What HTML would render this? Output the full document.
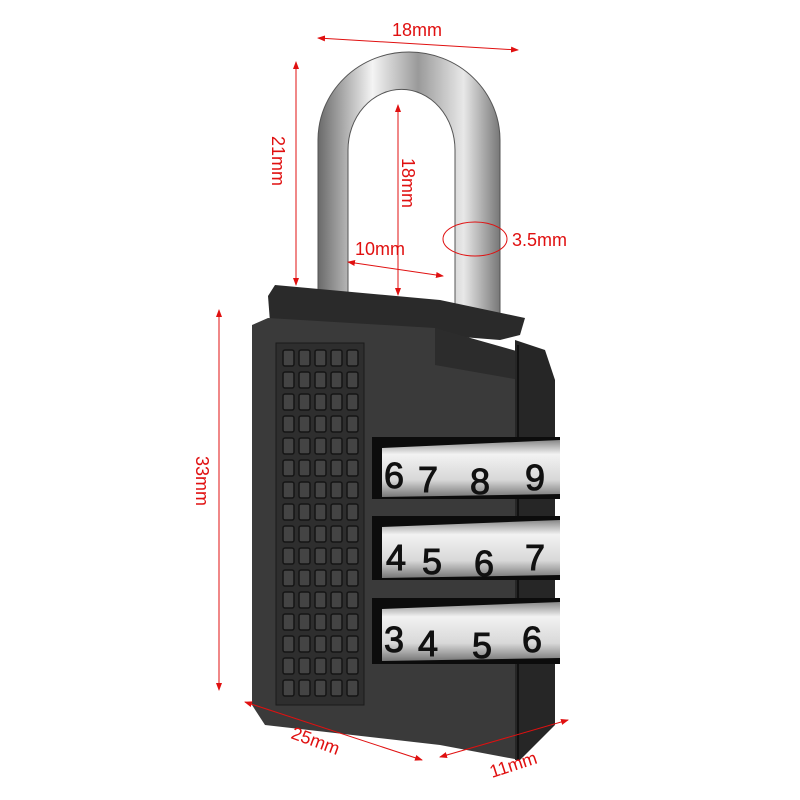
<!DOCTYPE html>
<html><head><meta charset="utf-8"><style>
html,body{margin:0;padding:0;background:#fff;width:800px;height:800px;overflow:hidden}
svg{display:block}
.t{font-family:"Liberation Sans",sans-serif;fill:#e01010;font-size:18px}
.d{font-family:"Liberation Sans",sans-serif;fill:#111;font-size:36px;stroke:#111;stroke-width:1}
</style></head><body>
<svg width="800" height="800" viewBox="0 0 800 800">
<defs>
<linearGradient id="sh" x1="0" x2="1">
<stop offset="0" stop-color="#6a6a6a"/><stop offset="0.3" stop-color="#f4f4f4"/><stop offset="0.55" stop-color="#9a9a9a"/><stop offset="0.8" stop-color="#e8e8e8"/><stop offset="1" stop-color="#777"/>
</linearGradient>
<linearGradient id="dial" x1="0" y1="0" x2="0" y2="1">
<stop offset="0" stop-color="#888"/><stop offset="0.25" stop-color="#f2f2f2"/><stop offset="0.7" stop-color="#d8d8d8"/><stop offset="1" stop-color="#777"/>
</linearGradient>
<marker id="a" markerWidth="8" markerHeight="8" refX="7" refY="4" orient="auto-start-reverse"><path d="M0,1 L8,4 L0,7 z" fill="#e01010"/></marker>
</defs>
<path d="M318,330 L318,140 A91,88 0 0 1 500,140 L500,330 L455,330 L455,150 A53,60 0 0 0 348,150 L348,330 Z" fill="url(#sh)" stroke="#555" stroke-width="1"/>
<path d="M268,296 L275,285 L440,300 L525,318 L520,335 L500,340 L270,322 Z" fill="#2a2a2a"/>
<path d="M252,325 L268,318 L435,328 L520,355 L520,760 L440,745 L265,725 L252,705 Z" fill="#3a3a3a"/>
<path d="M435,328 L520,352 L520,380 L435,365 Z" fill="#2c2c2c"/>
<path d="M515,340 L545,350 L555,380 L555,725 L520,760 L515,760 Z" fill="#262626"/>
<line x1="518" y1="345" x2="518" y2="760" stroke="#111" stroke-width="2"/>
<rect x="276" y="343" width="88" height="362" fill="#2e2e2e" stroke="#1a1a1a"/>
<g fill="#444" stroke="#151515" stroke-width="1.5">
<g id="row">
<rect x="283" y="350" width="11" height="16" rx="2"/><rect x="299" y="350" width="11" height="16" rx="2"/><rect x="315" y="350" width="11" height="16" rx="2"/><rect x="331" y="350" width="11" height="16" rx="2"/><rect x="347" y="350" width="11" height="16" rx="2"/>
</g>
<use href="#row" y="22"/><use href="#row" y="44"/><use href="#row" y="66"/><use href="#row" y="88"/><use href="#row" y="110"/><use href="#row" y="132"/><use href="#row" y="154"/><use href="#row" y="176"/><use href="#row" y="198"/><use href="#row" y="220"/><use href="#row" y="242"/><use href="#row" y="264"/><use href="#row" y="286"/><use href="#row" y="308"/><use href="#row" y="330"/>
</g>
<g>
<rect x="372" y="437" width="188" height="62" fill="#0c0c0c"/>
<path d="M382,448 L560,440 L560,494 L382,497 Z" fill="url(#dial)"/>
<text class="d" x="384" y="488">6</text><text class="d" x="418" y="492">7</text><text class="d" x="470" y="494">8</text><text class="d" x="525" y="490">9</text>
<rect x="372" y="516" width="188" height="64" fill="#0c0c0c"/>
<path d="M382,527 L560,520 L560,575 L382,578 Z" fill="url(#dial)"/>
<text class="d" x="386" y="570">4</text><text class="d" x="422" y="574">5</text><text class="d" x="474" y="576">6</text><text class="d" x="525" y="570">7</text>
<rect x="372" y="598" width="188" height="66" fill="#0c0c0c"/>
<path d="M382,609 L560,602 L560,658 L382,661 Z" fill="url(#dial)"/>
<text class="d" x="384" y="652">3</text><text class="d" x="418" y="656">4</text><text class="d" x="472" y="658">5</text><text class="d" x="522" y="652">6</text>
</g>
<g stroke="#e01010" stroke-width="1" fill="none">
<line x1="318" y1="38" x2="518" y2="50" marker-start="url(#a)" marker-end="url(#a)"/>
<line x1="296" y1="62" x2="296" y2="285" marker-start="url(#a)" marker-end="url(#a)"/>
<line x1="398" y1="105" x2="398" y2="295" marker-start="url(#a)" marker-end="url(#a)"/>
<line x1="348" y1="262" x2="443" y2="276" marker-start="url(#a)" marker-end="url(#a)"/>
<line x1="219" y1="310" x2="219" y2="690" marker-start="url(#a)" marker-end="url(#a)"/>
<line x1="245" y1="702" x2="422" y2="760" marker-start="url(#a)" marker-end="url(#a)"/>
<line x1="440" y1="757" x2="568" y2="720" marker-start="url(#a)" marker-end="url(#a)"/>
<ellipse cx="475" cy="239" rx="32" ry="17"/>
</g>
<text class="t" x="392" y="36">18mm</text>
<text class="t" transform="translate(272,136) rotate(90)">21mm</text>
<text class="t" transform="translate(402,158) rotate(90)">18mm</text>
<text class="t" x="355" y="255">10mm</text>
<text class="t" x="512" y="246">3.5mm</text>
<text class="t" transform="translate(196,456) rotate(90)">33mm</text>
<text class="t" transform="translate(290,738) rotate(20)">25mm</text>
<text class="t" transform="translate(492,778) rotate(-18)">11mm</text>
</svg>
</body></html>
